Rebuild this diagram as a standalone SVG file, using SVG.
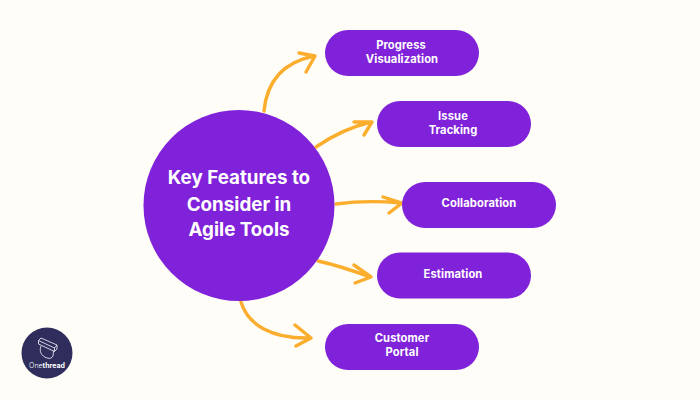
<svg xmlns="http://www.w3.org/2000/svg" width="700" height="400" viewBox="0 0 700 400">
  <style>
    .pill { fill: #8022d9; }
    .label { font-family: "Inter", "Liberation Sans", sans-serif; font-weight: 700; font-size: 11.2px; letter-spacing: 0.1px; fill: #ffffff; text-anchor: middle; }
    .title { font-family: "Inter", "Liberation Sans", sans-serif; font-weight: 700; font-size: 18.8px; fill: #ffffff; text-anchor: middle; }
    .arrow { fill: none; stroke: #fbad2d; stroke-width: 3.4; stroke-linecap: round; stroke-linejoin: round; }
  </style>
  <rect width="700" height="400" fill="#fffdf7"/>

  <g id="connectors">
    <path class="arrow" d="M264 111C267 80 285 62 314 56M299 53L315 56L306 72"/>
    <path class="arrow" d="M316 147C332 136 350 127 371 122M354 122L372 122L364 135"/>
    <path class="arrow" d="M336 204C358 201 380 201 401 203M383 197L402 203L389 213"/>
    <path class="arrow" d="M318 261C336 265 354 271 370 277M354 265L371 277L355 283"/>
    <path class="arrow" d="M241 302C248 325 272 339 310 338M295 325L311 338L296 346"/>
  </g>

  <g id="hub">
    <circle cx="239" cy="205.5" r="95.5" fill="#8022d9"/>
    <text class="title" x="239" y="184">Key Features to</text>
    <text class="title" x="239" y="211">Consider in</text>
    <text class="title" x="239" y="236">Agile Tools</text>
  </g>

  <g id="progress-visualization">
    <rect class="pill" x="325" y="30" width="154" height="46" rx="23"/>
    <text class="label" x="401" y="49">Progress</text>
    <text class="label" x="402" y="63">Visualization</text>
  </g>
  <g id="issue-tracking">
    <rect class="pill" x="377" y="101" width="154" height="46" rx="23"/>
    <text class="label" x="453" y="120">Issue</text>
    <text class="label" x="453" y="134">Tracking</text>
  </g>
  <g id="collaboration">
    <rect class="pill" x="402" y="182" width="154" height="46" rx="23"/>
    <text class="label" x="479" y="207">Collaboration</text>
  </g>
  <g id="estimation">
    <rect class="pill" x="377" y="252.500" width="154" height="46" rx="23"/>
    <text class="label" x="453" y="278">Estimation</text>
  </g>
  <g id="customer-portal">
    <rect class="pill" x="325" y="324" width="154" height="46" rx="23"/>
    <text class="label" x="402" y="342">Customer</text>
    <text class="label" x="402" y="356">Portal</text>
  </g>

  <g id="onethread-badge">
    <circle cx="47" cy="353" r="25.500" fill="#2e2d5b"/>
    <g fill="none" stroke="#e4e3ee" stroke-width="0.9" stroke-linejoin="round">
      <path d="M38.500 340.500L41 338L57 345L54.500 348Z"/>
      <path d="M38.500 340.500L38.500 344L54.500 351.500L54.500 348M57 345L57 349L54.500 351.500"/>
      <path d="M41 346C39 351 41 356 47 358C50 359 52 358 53 356L53.500 351"/>
    </g>
    <text x="47" y="368" font-family="Inter, 'Liberation Sans', sans-serif" font-size="7" fill="#ffffff" text-anchor="middle"><tspan font-weight="300">One</tspan><tspan font-weight="700">thread</tspan></text>
  </g>
</svg>
